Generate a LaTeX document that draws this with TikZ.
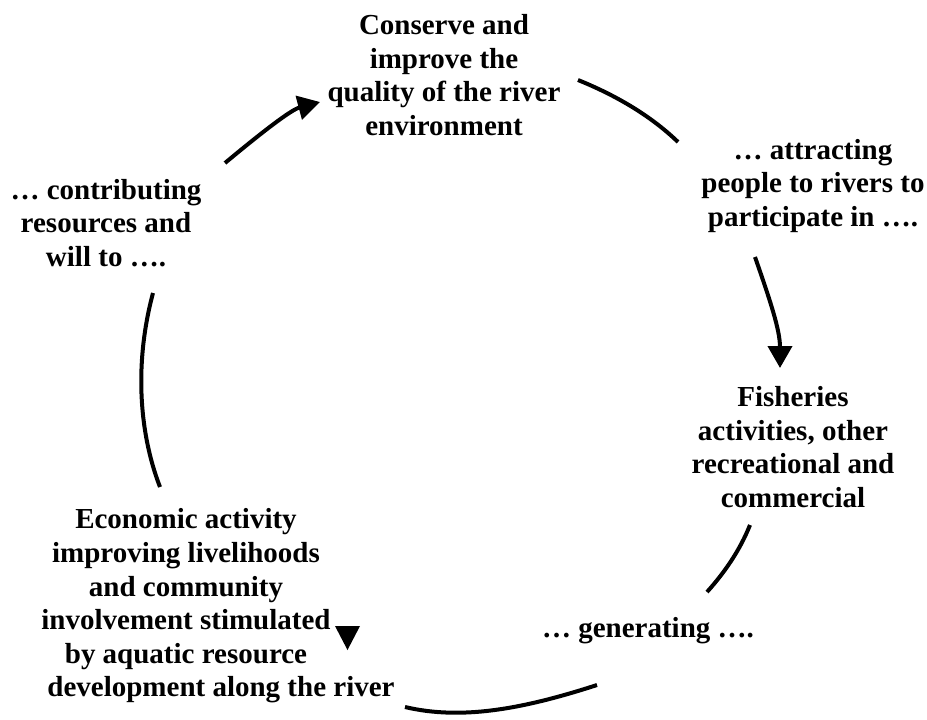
\documentclass[tikz,border=0pt]{standalone}
\usepackage{fontspec}
\setmainfont{Liberation Serif}
\usepackage{tikz}
\usetikzlibrary{arrows.meta, positioning, calc}
\usepackage{xcolor}
\definecolor{ink}{HTML}{000000}
\tikzset{
  phase/.style={align=center, inner sep=0pt, text=ink,
                font=\fontsize{14.5}{16.8}\selectfont\bfseries},
  arrow/.style={-{Triangle[length=11pt, width=12pt]}, line width=2pt, draw=ink},
  link/.style={line width=2pt, draw=ink},
}

\begin{document}
\begin{tikzpicture}[x=0.5pt, y=-0.5pt]
  \useasboundingbox (0,0) rectangle (927,719);

  \node[phase] (cons)    at (444,75)  {Conserve and\\improve the\\quality of the river\\environment};
  \node[phase] (attract) at (813,186) {\dots\ attracting\\people to rivers to\\participate in \dots.};
  \node[phase] (fish)    at (793,447) {Fisheries\\activities, other\\recreational and\\commercial};
  \node[phase] (gen)     at (648,631) {\dots\ generating \dots.};
  \node[phase] (econ)    at (186,606) {Economic activity\\improving livelihoods\\and community\\involvement stimulated\\by aquatic resource\\\hspace*{35pt}development along the river};
  \node[phase] (contrib) at (106,223) {\dots\ contributing\\resources and\\will to \dots.};

  % free ends of the cycle connectors
  \coordinate (c1s) at (225,163);  \coordinate (c1e) at (320,102);
  \coordinate (c2s) at (578,80);   \coordinate (c2e) at (678,142);
  \coordinate (c3s) at (755,257);  \coordinate (c3e) at (780,368);
  \coordinate (c4s) at (750,525);  \coordinate (c4e) at (707,592);
  \coordinate (c5s) at (597,685);  \coordinate (c5e) at (405,707);
  \coordinate (c6s) at (160,487);  \coordinate (c6e) at (153,293);

  \draw[arrow] (c1s) .. controls (255,138) and (290,110) .. (c1e);
  \draw[link]  (c2s) .. controls (615,95) and (650,115) .. (c2e);
  \draw[arrow] (c3s) .. controls (770,300) and (780,330) .. (c3e);
  \draw[link]  (c4s) .. controls (740,550) and (725,572) .. (c4e);
  \draw[link]  (c5s) .. controls (520,710) and (460,720) .. (c5e);
  \draw[link]  (c6s) .. controls (138,430) and (135,360) .. (c6e);

  \fill[ink] (335,626) -- (360,626) -- (347.5,650) -- cycle;

\end{tikzpicture}
\end{document}
